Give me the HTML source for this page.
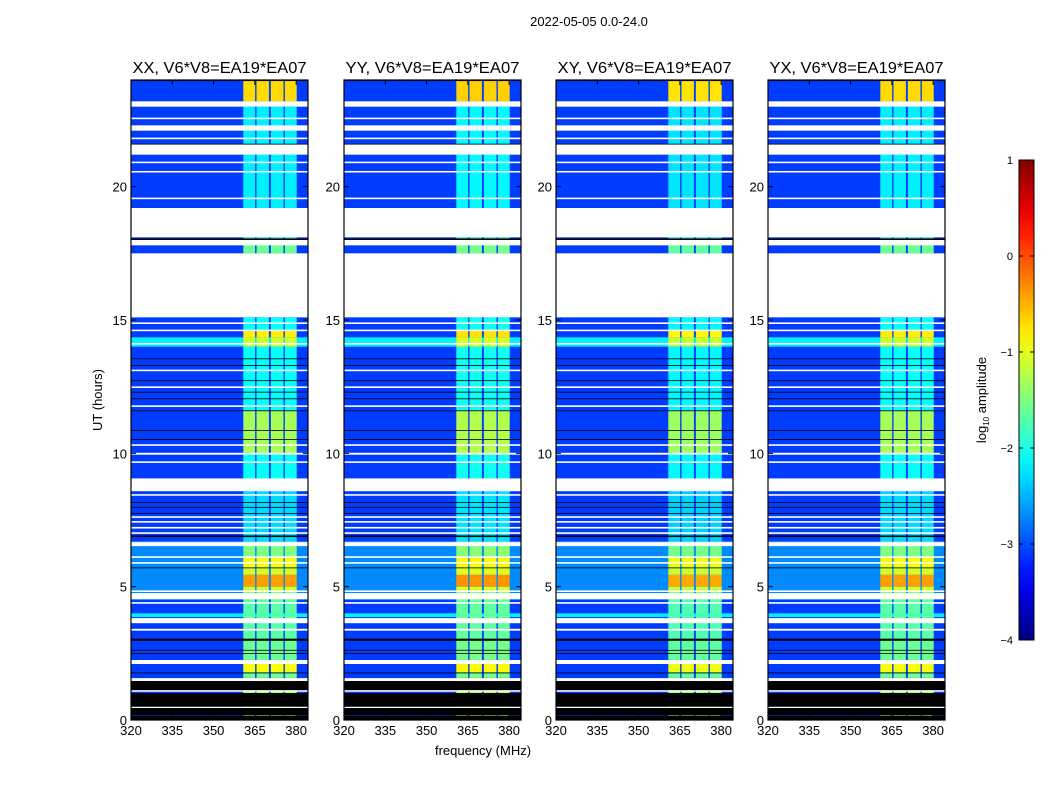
<!DOCTYPE html>
<html><head><meta charset="utf-8"><style>
body{margin:0;background:#fff;}
svg text{font-family:"Liberation Sans",sans-serif;}
</style></head><body>
<svg id="fig" width="1050" height="800" xmlns="http://www.w3.org/2000/svg">
<text x="589" y="26" font-size="13" text-anchor="middle">2022-05-05 0.0-24.0</text>
<text x="483" y="755" font-size="13" text-anchor="middle">frequency (MHz)</text>
<text x="102" y="400" font-size="13" text-anchor="middle" transform="rotate(-90 102 400)">UT (hours)</text>
</svg>
<script>
// ---- data ----
const panelTitles = ["XX, V6*V8=EA19*EA07","YY, V6*V8=EA19*EA07","XY, V6*V8=EA19*EA07","YX, V6*V8=EA19*EA07"];
const panelOffsets = [0, 0.05, -0.05, 0];
const xTicks = [320,335,350,365,380];
const yTicks = [0,5,10,15,20];
const cbTicks = [1,0,-1,-2,-3,-4];
const channelStarts = [360.8,365.6,370.8,375.9];
const channelEnds = [365.1,370.1,375.4,380.2];
// background level segments [startHour, endHour, log10 amp]
const bgSegments = [[0,4.5,-3.08],[4.5,6.7,-2.7],[6.7,24,-3.08]];
// full-width bright rows [start,end,level]
const brightRows = [[3.86,4.0,-2.2],[14.0,14.35,-2.2]];
// band (channel) levels [start,end,level]
const bandSegments = [[0,1.6,-1.3],[1.6,1.8,-1.6],[1.8,2.1,-0.9],[2.1,3.0,-1.6],[3.0,4.5,-1.7],[4.5,4.8,-1.5],[4.8,5.0,-1.1],[5.0,5.45,-0.4],[5.45,5.7,-1.1],[5.7,6.1,-0.9],[6.1,6.7,-1.5],[6.7,8.6,-2.3],[9.0,10.0,-2.1],[10.0,11.6,-1.3],[11.6,14.0,-2.1],[14.0,14.35,-1.1],[14.35,14.6,-0.8],[14.6,15.1,-2.1],[17.5,18.0,-1.6],[18.0,18.1,-2.0],[19.2,23.0,-2.2],[23.2,24,-0.7]];
const whiteGaps = [[0.45,0.5],[1.06,1.12],[1.46,1.57],[2.1,2.25],[3.35,3.42],[3.63,3.82],[4.36,4.42],[4.53,4.76],[4.8,4.86],[5.86,5.92],[6.08,6.14],[6.52,6.67],[6.98,7.04],[7.18,7.24],[7.4,7.46],[7.58,7.64],[8.41,8.47],[8.58,9.06],[9.64,9.7],[9.95,10.02],[10.28,10.34],[11.74,11.8],[12.45,12.51],[13.08,13.14],[14.08,14.14],[14.58,14.64],[14.85,14.91],[15.1,17.5],[17.8,18.0],[18.1,19.2],[19.53,19.59],[20.53,20.59],[20.88,20.94],[21.2,21.6],[21.78,21.84],[22.1,22.3],[22.53,22.59],[23.0,23.2]];
const blackGaps = [[0,0.15],[0.17,0.45],[0.5,1.01],[1.12,1.46],[1.76,1.78],[2.49,2.51],[2.61,2.63],[2.97,3.05],[5.69,5.72],[6.86,6.92],[7.74,7.76],[7.97,7.99],[8.15,8.17],[10.51,10.53],[10.85,10.87],[11.59,11.61],[12.04,12.06],[12.29,12.31],[12.72,12.74],[13.29,13.31],[13.54,13.56],[18.0,18.06],[21.59,21.61],[23.96,24.0]];

// ---- helpers ----
const NS="http://www.w3.org/2000/svg";
const svg=document.getElementById('fig');
const panelX=[131,344,556,768], PW=177, PT=80, PB=720;
const FMIN=320, FMAX=384.3, HMIN=0, HMAX=24;
function jet(v){ // v in -4..1
  let t=(v+4)/5; t=Math.max(0,Math.min(1,t));
  const c=x=>Math.max(0,Math.min(1,x));
  const r=c(1.5-Math.abs(4*t-3)), g=c(1.5-Math.abs(4*t-2)), b=c(1.5-Math.abs(4*t-1));
  return `rgb(${Math.round(r*255)},${Math.round(g*255)},${Math.round(b*255)})`;
}
function mk(tag,attrs,parent){const e=document.createElementNS(NS,tag);for(const k in attrs)e.setAttribute(k,attrs[k]);(parent||svg).appendChild(e);return e;}

panelX.forEach((x0,pi)=>{
  const fx=f=>x0+(f-FMIN)/(FMAX-FMIN)*PW;
  const hy=h=>PB-(h-HMIN)/(HMAX-HMIN)*(PB-PT);
  const g=mk('g',{});
  
  
  const off=panelOffsets[pi];
  const band=(s,e,color,name,x1,x2,minH)=>{
    const y1=hy(e),y2=hy(s);
    const r=mk('rect',{x:x1,y:y1,width:x2-x1,height:Math.max(minH,y2-y1),fill:color},g);
    
    
  };
  bgSegments.forEach(s=>band(s[0],s[1],jet(s[2]),'background-segment',x0,x0+PW,1));
  brightRows.forEach(s=>band(s[0],s[1],jet(s[2]),'bright-row',x0,x0+PW,1));
  bandSegments.forEach(s=>{
    channelStarts.forEach((cs,ci)=>band(s[0],s[1],jet(s[2]+off),'channel-cell',fx(cs),fx(channelEnds[ci]),1));
  });
  whiteGaps.forEach(s=>band(s[0],s[1],'#fff','flag-gap-white',x0,x0+PW,1.5));
  blackGaps.forEach(s=>band(s[0],s[1],'#000','flag-gap-black',x0,x0+PW,0.8));
  const fr=mk('rect',{x:x0,y:PT,width:PW,height:PB-PT,fill:'none',stroke:'#000','stroke-width':1.2},g);
  
  
  const t=mk('text',{x:x0+PW/2,y:PT-7,'font-size':15.5,'text-anchor':'middle',textLength:174,lengthAdjust:'spacingAndGlyphs'},g);
  t.textContent=panelTitles[pi];
  
  
  xTicks.forEach(v=>{
    const x=fx(v);
    mk('line',{x1:x,x2:x,y1:PB,y2:PB-5,stroke:'#000'},g);
    mk('line',{x1:x,x2:x,y1:PT,y2:PT+5,stroke:'#000'},g);
    const l=mk('text',{x:x,y:PB+15,'font-size':13,'text-anchor':'middle'},g);
    l.textContent=v;
    
    
  });
  yTicks.forEach(v=>{
    const y=hy(v);
    mk('line',{x1:x0,x2:x0+5,y1:y,y2:y,stroke:'#000'},g);
    mk('line',{x1:x0+PW,x2:x0+PW-5,y1:y,y2:y,stroke:'#000'},g);
    const l=mk('text',{x:x0-4,y:y+5,'font-size':13,'text-anchor':'end'},g);
    l.textContent=v;
    
    
  });
});

// colorbar
const CBX=1019,CBW=15,CBT=160,CBB=640;
const cg=mk('g',{});


const defs=mk('defs',{},cg);
const grad=mk('linearGradient',{id:'jetg',x1:0,y1:1,x2:0,y2:0},defs);
for(let i=0;i<=20;i++){const v=-4+5*i/20;mk('stop',{offset:(i/20),'stop-color':jet(v)},grad);}
mk('rect',{x:CBX,y:CBT,width:CBW,height:CBB-CBT,fill:'url(#jetg)',stroke:'#000','stroke-width':1},cg);
const cy=v=>CBB-(v+4)/5*(CBB-CBT);
cbTicks.forEach(v=>{
  const y=cy(v);
  mk('line',{x1:CBX,x2:CBX+4,y1:y,y2:y,stroke:'#000'},cg);
  mk('line',{x1:CBX+CBW,x2:CBX+CBW-4,y1:y,y2:y,stroke:'#000'},cg);
  const l=mk('text',{x:CBX-6,y:y+4,'font-size':11,'text-anchor':'end'},cg);
  l.textContent=v<0?'\u2212'+Math.abs(v):String(v);
  
  
});
const cl=mk('text',{x:986,y:400,'font-size':13,'text-anchor':'middle',transform:'rotate(-90 986 400)'},cg);
cl.innerHTML='log<tspan font-size="8" dy="3">10</tspan><tspan dy="-3"> amplitude</tspan>';


</script>
</body></html>
